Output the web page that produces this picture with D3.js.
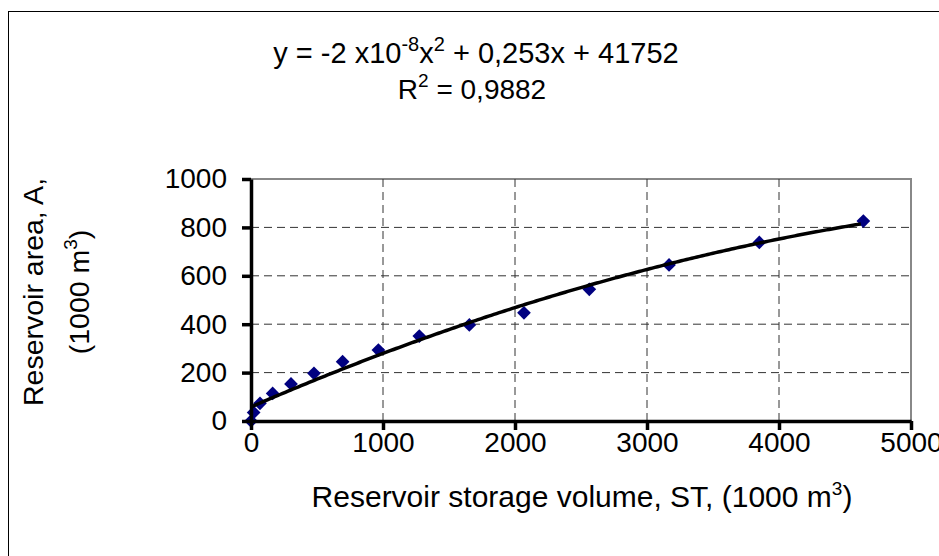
<!DOCTYPE html>
<html>
<head>
<meta charset="utf-8">
<script src="https://cdn.jsdelivr.net/npm/d3@7"></script>
<style>
  body { margin: 0; background: #fff; }
  text { font-family: "Liberation Sans", Arial, sans-serif; }
</style>
</head>
<body>
<svg id="chart" width="939" height="556"></svg>
<script>
"use strict";

// storage volume, ST (1000 m3)
const volumes = [0, 20, 68, 164, 303, 477, 694, 965, 1275, 1654, 2068, 2563, 3167, 3851, 4639]
// reservoir area, A (1000 m2)
const areas = [0, 35, 73, 114, 153, 197, 245, 293, 351, 397, 447, 544, 645, 738, 826]

const x_ticks = [0, 1000, 2000, 3000, 4000, 5000]
const y_ticks = [0, 200, 400, 600, 800, 1000]

const svg = d3.select('#chart')
const plot_l = 251, plot_r = 911, plot_t = 179, plot_b = 421

const x = d3.scaleLinear().domain([0, 5000]).range([plot_l, plot_r])
const y = d3.scaleLinear().domain([0, 1000]).range([plot_b, plot_t])

// outer frame
svg.append('rect')
   .attr('x', 8.5).attr('y', 11.5)
   .attr('width', 1000).attr('height', 600)
   .attr('fill', 'none').attr('stroke', '#000').attr('stroke-width', 1)

// plot area border (grey top/right)
svg.append('path')
   .attr('d', `M${plot_l},${plot_t}H${plot_r}V${plot_b}`)
   .attr('fill', 'none').attr('stroke', '#888').attr('stroke-width', 2)

// dashed grid
svg.append('g').selectAll('line')
   .data(y_ticks.filter(d => d > 0 && d < 1000))
   .enter().append('line')
      .attr('x1', plot_l).attr('x2', plot_r)
      .attr('y1', d => y(d)).attr('y2', d => y(d))
      .attr('stroke', '#333').attr('stroke-dasharray', '8,5')
svg.append('g').selectAll('line')
   .data(x_ticks.filter(d => d > 0 && d < 5000))
   .enter().append('line')
      .attr('y1', plot_t).attr('y2', plot_b)
      .attr('x1', d => x(d)).attr('x2', d => x(d))
      .attr('stroke', '#333').attr('stroke-dasharray', '8,5')

// quadratic least squares trend line, like the spreadsheet does
function polyfit2(xs, ys) {
   let s = [0, 0, 0, 0, 0], t = [0, 0, 0]
   xs.forEach((xv, i) => {
      for (let k = 0; k < 5; k++) s[k] += Math.pow(xv, k)
      for (let k = 0; k < 3; k++) t[k] += Math.pow(xv, k) * ys[i]
   })
   let m = [[s[0], s[1], s[2], t[0]], [s[1], s[2], s[3], t[1]], [s[2], s[3], s[4], t[2]]]
   for (let i = 0; i < 3; i++) {
      for (let j = i + 1; j < 3; j++) {
         let f = m[j][i] / m[i][i]
         for (let k = i; k < 4; k++) m[j][k] -= f * m[i][k]
      }
   }
   let c = [0, 0, 0]
   for (let i = 2; i >= 0; i--) {
      let v = m[i][3]
      for (let k = i + 1; k < 3; k++) v -= m[i][k] * c[k]
      c[i] = v / m[i][i]
   }
   return c
}
const coef = polyfit2(volumes, areas)
const trend = d3.range(0, d3.max(volumes) + 1, 20).map(v => [v, coef[0] + coef[1] * v + coef[2] * v * v])

// points
svg.append('g').selectAll('path')
   .data(volumes.map((v, i) => [v, areas[i]]))
   .enter().append('path')
      .attr('transform', d => `translate(${x(d[0])},${y(d[1])})`)
      .attr('d', d3.symbol(d3.symbolDiamond2, 120))
      .attr('fill', '#000080')

svg.append('path')
   .datum(trend)
   .attr('fill', 'none')
   .attr('stroke', '#000')
   .attr('stroke-width', 3.5)
   .attr('d', d3.line().x(d => x(d[0])).y(d => y(d[1])))

// axes
const y_axis = svg.append('g')
   .attr('transform', `translate(${plot_l},0)`)
   .call(d3.axisLeft(y).tickValues(y_ticks).tickFormat(d3.format('d'))
      .tickSize(9).tickSizeOuter(0).tickPadding(15))
const x_axis = svg.append('g')
   .attr('transform', `translate(0,${plot_b})`)
   .call(d3.axisBottom(x).tickValues(x_ticks).tickFormat(d3.format('d'))
      .tickSize(9).tickSizeOuter(0).tickPadding(2))
;[x_axis, y_axis].forEach(a => {
   a.select('.domain').attr('stroke', '#000').attr('stroke-width', 3.5)
   a.selectAll('.tick line').attr('stroke', '#000').attr('stroke-width', 3.5)
   a.selectAll('.tick text')
      .attr('fill', '#000')
      .style('font-size', '28px')
      .style('font-family', '"Liberation Sans", Arial, sans-serif')
})

// equation
const eq = svg.append('text')
   .attr('x', 476).attr('y', 63)
   .attr('text-anchor', 'middle')
   .style('font-size', '29px')
eq.append('tspan').text('y = -2 x10')
eq.append('tspan').attr('dy', -12).style('font-size', '20px').text('-8')
eq.append('tspan').attr('dy', 12).text('x')
eq.append('tspan').attr('dy', -12).style('font-size', '20px').text('2')
eq.append('tspan').attr('dy', 12).text(' + 0,253x + 41752')

const r2 = svg.append('text')
   .attr('x', 472).attr('y', 99)
   .attr('text-anchor', 'middle')
   .style('font-size', '28px')
r2.append('tspan').text('R')
r2.append('tspan').attr('dy', -12).style('font-size', '19px').text('2')
r2.append('tspan').attr('dy', 12).text(' = 0,9882')

// axis titles
const xt = svg.append('text')
   .attr('x', 582).attr('y', 507)
   .attr('text-anchor', 'middle')
   .style('font-size', '30px')
xt.append('tspan').text('Reservoir storage volume, ST, (1000 m')
xt.append('tspan').attr('dy', -12).style('font-size', '19px').text('3')
xt.append('tspan').attr('dy', 12).text(')')

const yt = svg.append('text')
   .attr('transform', 'translate(43,292) rotate(-90)')
   .attr('text-anchor', 'middle')
   .style('font-size', '28.5px')
yt.append('tspan').text('Reservoir area, A,')
const yt2 = svg.append('text')
   .attr('transform', 'translate(89,292) rotate(-90)')
   .attr('text-anchor', 'middle')
   .style('font-size', '28.5px')
yt2.append('tspan').text('(1000 m')
yt2.append('tspan').attr('dy', -12).style('font-size', '19px').text('3')
yt2.append('tspan').attr('dy', 12).text(')')
</script>
</body>
</html>
